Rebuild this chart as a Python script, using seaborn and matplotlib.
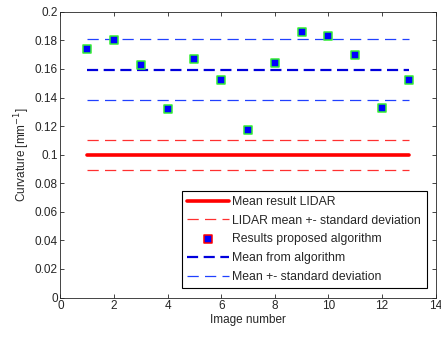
import numpy as np
import pandas as pd
import matplotlib
matplotlib.use('Agg')
import matplotlib.pyplot as plt
import seaborn as sns

# data
image_number = [1, 2, 3, 4, 5, 6, 7, 8, 9, 10, 11, 12, 13]
curvature = [0.174, 0.180, 0.163, 0.132, 0.167, 0.152, 0.117,
             0.164, 0.186, 0.183, 0.170, 0.133, 0.152]
lidar_mean = 0.100
lidar_std = 0.0105
algo_mean = 0.1595
algo_std = 0.0215
x_span = [1, 13]

sns.set_style('ticks')
plt.rcParams['font.family'] = ['Liberation Sans', 'DejaVu Sans']
plt.rcParams['font.size'] = 8.5

fig, ax = plt.subplots(figsize=(4.41, 3.37), dpi=100)
fig.subplots_adjust(left=0.137, right=0.988, top=0.965, bottom=0.117)

df = pd.DataFrame({'Image number': image_number, 'Curvature': curvature})

def hline(y, **kw):
    d = pd.DataFrame({'x': x_span, 'y': [y, y]})
    sns.lineplot(data=d, x='x', y='y', ax=ax, **kw)

hline(lidar_mean, color='red', linewidth=2.6, label='Mean result LIDAR')
hline(lidar_mean + lidar_std, color='#ff3030', linewidth=0.9, dashes=(9, 5),
      label='LIDAR mean +- standard deviation')
hline(lidar_mean - lidar_std, color='#ff3030', linewidth=0.9, dashes=(9, 5))
sns.scatterplot(data=df, x='Image number', y='Curvature', ax=ax, marker='s',
                s=34, color='blue', edgecolor='#33ee33', linewidth=1.1,
                label='Results proposed algorithm', zorder=5)
hline(algo_mean, color='#0000dd', linewidth=1.6, dashes=(5, 2.5),
      label='Mean from algorithm')
hline(algo_mean + algo_std, color='#2040ff', linewidth=0.9, dashes=(9, 5),
      label='Mean +- standard deviation')
hline(algo_mean - algo_std, color='#2040ff', linewidth=0.9, dashes=(9, 5))

ax.set_xlim(0, 14)
ax.set_ylim(0, 0.2)
ax.set_xticks(range(0, 15, 2))
ax.set_yticks(np.arange(0, 0.201, 0.02))
ax.set_yticklabels(['0', '0.02', '0.04', '0.06', '0.08', '0.1', '0.12',
                    '0.14', '0.16', '0.18', '0.2'])
ax.tick_params(direction='in', top=True, right=True, length=3, width=0.6,
               labelsize=8.5, pad=2)
for s in ax.spines.values():
    s.set_linewidth(0.6)
    s.set_visible(True)
ax.set_xlabel('Image number', labelpad=1)
ax.set_ylabel('Curvature [mm$^{-1}$]', labelpad=2)

leg = ax.legend(loc='lower right', fancybox=False, framealpha=1,
                edgecolor='black', fontsize=8.8, borderpad=0.45,
                handlelength=3.4, handletextpad=0.3, labelspacing=0.55,
                borderaxespad=0.75)
leg.get_frame().set_linewidth(0.8)
leg.legend_handles[2].set_edgecolor('red')

fig.savefig('out.png', dpi=100)
